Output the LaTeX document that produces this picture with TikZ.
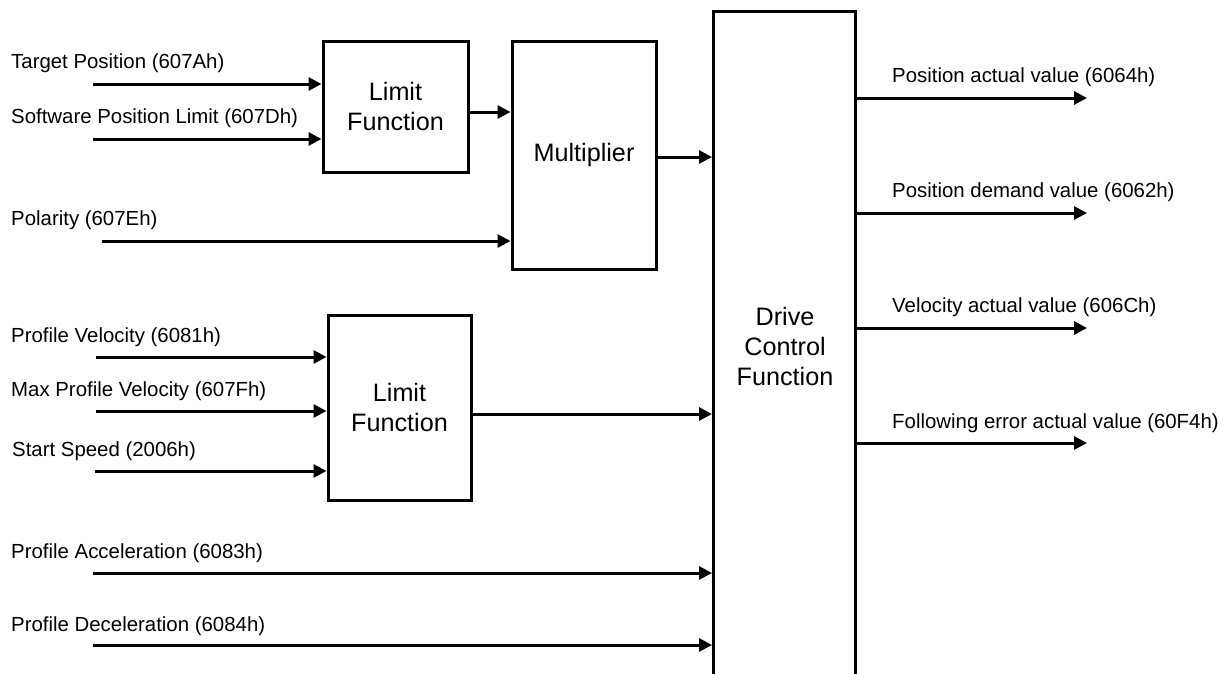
\documentclass[tikz,border=0pt]{standalone}
\usepackage{fontspec}
\setmainfont{Liberation Sans}
\usetikzlibrary{arrows.meta}
\tikzset{
  blk/.style={draw=black, line width=3pt, fill=white, inner sep=0pt, align=center,
    font=\fontsize{25.2}{29.5}\selectfont},
  arr/.style={line width=3pt, -{Triangle[length=13pt,width=13pt]}},
  lbl/.style={anchor=west, inner sep=0pt, font=\fontsize{20.4}{24}\selectfont},
}
\begin{document}
\begin{tikzpicture}[x=1pt,y=-1pt]
\useasboundingbox (0,0) rectangle (1227,673);
\clip (0,0) rectangle (1227,673);
% blocks
\node[blk, minimum width=145pt, minimum height=131pt] (lf1) at (395.5,106.5) {Limit\\Function};
\node[blk, minimum width=144pt, minimum height=228pt] (mul) at (584,155) {Multiplier};
\node[blk, minimum width=142pt, minimum height=700pt] (drv) at (784.5,361) {};
\node[inner sep=0pt, align=center, font=\fontsize{25.2}{30}\selectfont] (drvt) at (785,346) {Drive\\Control\\Function};
\node[blk, minimum width=143pt, minimum height=185pt] (lf2) at (399.5,407.5) {Limit\\Function};
% input labels
\node[lbl] (t1) at (11,63) {Target Position (607Ah)};
\node[lbl] (t2) at (11,118) {Software Position Limit (607Dh)};
\node[lbl] (t3) at (11,220) {Polarity (607Eh)};
\node[lbl] (t4) at (11,337) {Profile Velocity (6081h)};
\node[lbl] (t5) at (11,391) {Max Profile Velocity (607Fh)};
\node[lbl] (t6) at (12,451) {Start Speed (2006h)};
\node[lbl] (t7) at (11,553) {Profile Acceleration (6083h)};
\node[lbl] (t8) at (11,626) {Profile Deceleration (6084h)};
% input start points
\coordinate (s1) at (93,84);
\coordinate (s2) at (93,139);
\coordinate (s3) at (102,241);
\coordinate (s4) at (96,357);
\coordinate (s5) at (96,411);
\coordinate (s6) at (95,471);
\coordinate (s7) at (93,573);
\coordinate (s8) at (93,645);
\draw[arr] (s1) -- (s1 -| lf1.west);
\draw[arr] (s2) -- (s2 -| lf1.west);
\draw[arr] (s3) -- (s3 -| mul.west);
\draw[arr] (s4) -- (s4 -| lf2.west);
\draw[arr] (s5) -- (s5 -| lf2.west);
\draw[arr] (s6) -- (s6 -| lf2.west);
\draw[arr] (s7) -- (s7 -| drv.west);
\draw[arr] (s8) -- (s8 -| drv.west);
% internal connections
\coordinate (c1) at (469,112);
\draw[arr] (c1 -| lf1.east) -- (c1 -| mul.west);
\coordinate (c2) at (657,157);
\draw[arr] (c2 -| mul.east) -- (c2 -| drv.west);
\coordinate (c3) at (472,414);
\draw[arr] (c3 -| lf2.east) -- (c3 -| drv.west);
% outputs
\coordinate (o1) at (1087,98);
\coordinate (o2) at (1087,213);
\coordinate (o3) at (1087,328);
\coordinate (o4) at (1087,443);
\draw[arr] (o1 -| drv.east) -- (o1);
\draw[arr] (o2 -| drv.east) -- (o2);
\draw[arr] (o3 -| drv.east) -- (o3);
\draw[arr] (o4 -| drv.east) -- (o4);
\node[lbl] (r1) at (892,77) {Position actual value (6064h)};
\node[lbl] (r2) at (892,192) {Position demand value (6062h)};
\node[lbl] (r3) at (892,307) {Velocity actual value (606Ch)};
\node[lbl] (r4) at (892,423) {Following error actual value (60F4h)};
\end{tikzpicture}
\end{document}
